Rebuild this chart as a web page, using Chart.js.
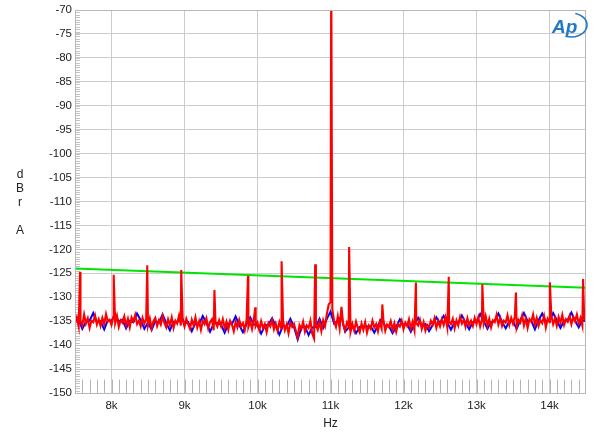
<!DOCTYPE html>
<html><head><meta charset="utf-8">
<script src="https://cdn.jsdelivr.net/npm/chart.js@4/dist/chart.umd.min.js"></script>
<style>html,body{margin:0;padding:0;background:#fff;}canvas{display:block;}</style>
</head><body>
<canvas id="c" width="600" height="436"></canvas>
<script>
// ---- axis definitions ----
const xRangeHz = [7500, 14500];
const yRangeDb = [-150, -70];
const xTickHz = [8000, 9000, 10000, 11000, 12000, 13000, 14000];
const xTickLabels = ['8k', '9k', '10k', '11k', '12k', '13k', '14k'];
const yTickDb = [-150, -145, -140, -135, -130, -125, -120, -115, -110, -105, -100, -95, -90, -85, -80, -75, -70];
const xTitle = 'Hz';
const yTitleLines = ['d', 'B', 'r', '', 'A'];

// ---- red noise floor, sampled every 25 Hz from 7500 Hz (rows of 500 Hz) ----
const redStartHz = 7500;
const redStepHz = 25;
const redNoiseDb = [
 -135.4,-134.2,-136.1,-134.8,-135.9,-133.6,-135.5,-134.4,-136.4,-134.9,-135.2,-133.8,-135.7,-134.6,-136.0,-134.3,-135.6,-133.5,-135.1,-134.7,
 -135.8,-134.1,-135.4,-133.9,-136.2,-134.8,-135.3,-134.0,-135.9,-134.5,-136.3,-134.2,-135.0,-133.7,-135.6,-134.9,-136.1,-134.3,-135.5,-134.6,
 -135.9,-134.4,-136.5,-135.0,-134.3,-136.0,-134.8,-135.7,-133.9,-135.4,-136.3,-134.6,-135.8,-134.2,-136.4,-134.9,-135.5,-133.8,-135.9,-134.7,
 -136.1,-134.5,-135.6,-136.6,-134.7,-135.9,-134.2,-136.3,-135.0,-136.8,-134.9,-135.6,-134.4,-136.5,-135.2,-134.6,-136.9,-135.3,-136.1,-134.8,
 -136.0,-134.6,-136.4,-135.1,-136.8,-134.9,-135.7,-137.1,-135.2,-136.3,-134.7,-136.0,-135.4,-136.9,-134.8,-136.2,-135.0,-136.6,-134.5,-136.1,
 -135.3,-136.8,-135.0,-136.4,-135.6,-137.3,-135.4,-136.1,-134.8,-136.7,-135.5,-137.0,-135.2,-136.5,-134.9,-136.9,-135.7,-137.5,-135.3,-136.2,
 -135.6,-137.0,-138.4,-135.8,-136.6,-135.1,-137.2,-135.9,-136.4,-134.9,-137.6,-138.6,-135.7,-136.8,-135.2,-137.1,-134.8,-136.0,-133.5,-131.5,
 -131.0,-132.5,-135.0,-136.2,-134.0,-136.5,-132.0,-135.8,-136.9,-135.3,-136.2,-137.2,-135.6,-137.0,-135.1,-136.4,-137.3,-135.5,-136.8,-135.2,
 -137.4,-135.9,-136.6,-134.9,-136.3,-135.6,-137.1,-135.2,-136.5,-134.8,-137.0,-135.7,-136.2,-135.0,-136.8,-135.4,-137.2,-135.6,-136.1,-134.9,
 -136.7,-135.3,-136.0,-134.6,-136.5,-135.1,-136.9,-135.4,-135.9,-134.7,-136.6,-135.2,-137.0,-135.8,-136.3,-134.9,-135.7,-134.4,-136.4,-135.0,
 -136.1,-134.6,-135.8,-134.2,-136.3,-135.1,-135.6,-134.5,-136.5,-134.8,-135.9,-134.1,-135.5,-134.7,-136.2,-134.4,-135.8,-134.9,-136.0,-134.3,
 -135.6,-134.2,-136.1,-134.7,-135.4,-133.9,-135.9,-134.5,-136.3,-134.8,-135.2,-133.7,-135.7,-134.4,-136.0,-134.9,-135.3,-133.8,-135.8,-134.3,
 -135.5,-134.0,-136.2,-134.7,-135.3,-133.8,-135.9,-134.4,-136.4,-134.6,-135.1,-133.6,-135.7,-134.3,-136.0,-134.8,-135.4,-133.9,-136.3,-134.5,
 -135.2,-133.8,-135.6,-134.4,-136.0,-134.1,-135.3,-133.7,-135.8,-134.6,-135.1,-133.9,-135.6,-134.2,-135.0,-133.6,-135.5,-134.3,-135.9,-134.4,
 -135.0
];

// ---- blue noise floor, sampled every 50 Hz from 7500 Hz (rows of 500 Hz) ----
const blueStartHz = 7500;
const blueStepHz = 50;
const blueNoiseDb = [
 -135.2,-134.8,-136.6,-135.1,-134.9,-133.3,-135.2,-135.0,-136.7,-134.8,
 -135.0,-133.5,-135.1,-134.7,-136.5,-134.9,-135.2,-133.4,-134.8,-136.6,
 -135.3,-136.8,-135.0,-135.2,-133.6,-135.4,-136.9,-135.1,-135.3,-133.6,
 -135.5,-135.2,-137.1,-135.4,-135.6,-133.9,-135.3,-137.2,-135.5,-135.4,
 -135.7,-137.4,-135.5,-135.6,-134.0,-135.8,-137.3,-135.6,-134.2,-135.7,
 -135.8,-137.6,-136.0,-135.7,-134.4,-136.0,-137.8,-135.9,-136.1,-134.5,
 -136.2,-138.8,-136.4,-136.1,-137.9,-136.3,-136.2,-134.5,-136.4,-134.5,
 -133.0,-135.5,-134.9,-134.0,-137.2,-136.3,-136.0,-137.5,-136.2,-136.1,
 -136.1,-136.0,-137.4,-135.9,-134.5,-136.1,-136.0,-137.5,-136.2,-134.6,
 -135.8,-135.6,-137.2,-135.7,-134.3,-135.9,-135.6,-137.1,-135.8,-134.2,
 -135.4,-133.9,-135.3,-136.8,-135.2,-135.4,-133.8,-135.3,-136.7,-135.2,
 -135.1,-133.5,-135.0,-136.6,-135.2,-134.9,-133.4,-135.1,-136.5,-135.0,
 -135.0,-136.6,-134.8,-133.3,-135.0,-134.9,-136.7,-134.8,-133.4,-135.0,
 -134.9,-133.3,-134.8,-136.4,-134.9,-134.7,-133.2,-134.9,-136.3,-134.8,
 -135.0
];

// ---- discrete tones on the red trace (Hz, dB) ----
const spikeHz = [7570, 8030, 8490, 8955, 9410, 9870, 9970, 10330, 10790, 11010, 11255, 11710, 12170, 12620, 13080, 13540, 14005, 14460];
const spikeDb = [-124.7, -125.3, -123.3, -124.3, -128.5, -125.5, -132.1, -122.5, -123.1, -60, -119.5, -131.5, -126.9, -125.7, -127.3, -129.0, -126.9, -126.2];

// ---- limit line ----
const limitHz = [7500, 14500];
const limitDb = [-124.0, -128.0];

function buildTrace(startHz, stepHz, noise, withSpikes) {
  const pts = noise.map((v, i) => ({ x: startHz + i * stepHz, y: v }));
  if (withSpikes) spikeHz.forEach((f, i) => pts.push({ x: f, y: spikeDb[i] }));
  pts.sort((a, b) => a.x - b.x);
  return pts;
}

const FONT = '"Liberation Sans", Arial, sans-serif';

const decor = {
  id: 'decor',
  beforeDatasetsDraw(chart) {
    const { ctx, chartArea: a, scales: { x, y } } = chart;
    ctx.save();
    ctx.strokeStyle = '#c4c4c4';
    ctx.lineWidth = 1;
    ctx.beginPath();
    for (let v = yRangeDb[0]; v <= yRangeDb[1]; v += 0.5) {
      const py = Math.round(y.getPixelForValue(v)) + 0.5;
      ctx.moveTo(a.left, py); ctx.lineTo(a.left + 5, py);
    }
    ctx.stroke();
    ctx.strokeStyle = '#b4b4b4';
    ctx.beginPath();
    const top = y.getPixelForValue(-147.2);
    for (let f = xRangeHz[0] + 100; f < xRangeHz[1]; f += 100) {
      const px = Math.round(x.getPixelForValue(f)) + 0.5;
      ctx.moveTo(px, a.bottom); ctx.lineTo(px, top);
    }
    ctx.stroke();
    ctx.restore();
  },
  afterDraw(chart) {
    const { ctx, chartArea: a } = chart;
    ctx.save();
    ctx.strokeStyle = '#b8b8b8';
    ctx.lineWidth = 1;
    ctx.strokeRect(Math.round(a.left) + 0.5, Math.round(a.top) + 0.5, Math.round(a.right - a.left) - 1, Math.round(a.bottom - a.top));
    ctx.fillStyle = '#222';
    ctx.font = '12px ' + FONT;
    ctx.textAlign = 'center';
    ctx.textBaseline = 'middle';
    ctx.fillText(xTitle, (a.left + a.right) / 2, 424);
    yTitleLines.forEach((t, i) => ctx.fillText(t, 20, 175 + i * 14));
    ctx.fillStyle = '#2378c3';
    ctx.strokeStyle = '#2378c3';
    ctx.font = 'italic bold 19px ' + FONT;
    ctx.textAlign = 'left';
    ctx.textBaseline = 'alphabetic';
    ctx.fillText('Ap', 552, 33);
    ctx.lineWidth = 1.6;
    ctx.beginPath();
    ctx.ellipse(571, 25, 16, 12, 0, -1.3, 1.9);
    ctx.stroke();
    ctx.restore();
  }
};

new Chart(document.getElementById('c'), {
  type: 'scatter',
  data: {
    datasets: [
      { label: 'red', data: buildTrace(redStartHz, redStepHz, redNoiseDb, true), showLine: true, borderColor: '#ff0000', borderWidth: 2.1, pointRadius: 0, tension: 0 },
      { label: 'blue', data: buildTrace(blueStartHz, blueStepHz, blueNoiseDb, false), showLine: true, borderColor: '#0000ff', borderWidth: 2.0, pointRadius: 0, tension: 0 },
      { label: 'limit', data: limitHz.map((f, i) => ({ x: f, y: limitDb[i] })), showLine: true, borderColor: '#00e400', borderWidth: 2, pointRadius: 0, tension: 0 }
    ]
  },
  options: {
    responsive: false,
    devicePixelRatio: 1,
    animation: false,
    layout: { padding: { left: 0, right: 14, top: 10, bottom: 0 } },
    plugins: { legend: { display: false }, tooltip: { enabled: false } },
    scales: {
      x: {
        type: 'linear', min: xRangeHz[0], max: xRangeHz[1],
        afterBuildTicks: s => { s.ticks = xTickHz.map(v => ({ value: v })); },
        afterFit: s => { s.height = 43; },
        ticks: { callback: (v) => xTickLabels[xTickHz.indexOf(v)], color: '#222', font: { family: FONT, size: 11.5 }, padding: 6, maxRotation: 0, autoSkip: false },
        grid: { color: '#cccccc', drawTicks: false },
        border: { display: false }
      },
      y: {
        type: 'linear', min: yRangeDb[0], max: yRangeDb[1],
        afterBuildTicks: s => { s.ticks = yTickDb.map(v => ({ value: v })); },
        afterFit: s => { s.width = 75; },
        ticks: { callback: v => String(v), color: '#222', font: { family: FONT, size: 11.5 }, padding: 3, autoSkip: false },
        grid: { color: '#cccccc', drawTicks: false },
        border: { display: false }
      }
    }
  },
  plugins: [decor]
});
</script>
</body></html>
